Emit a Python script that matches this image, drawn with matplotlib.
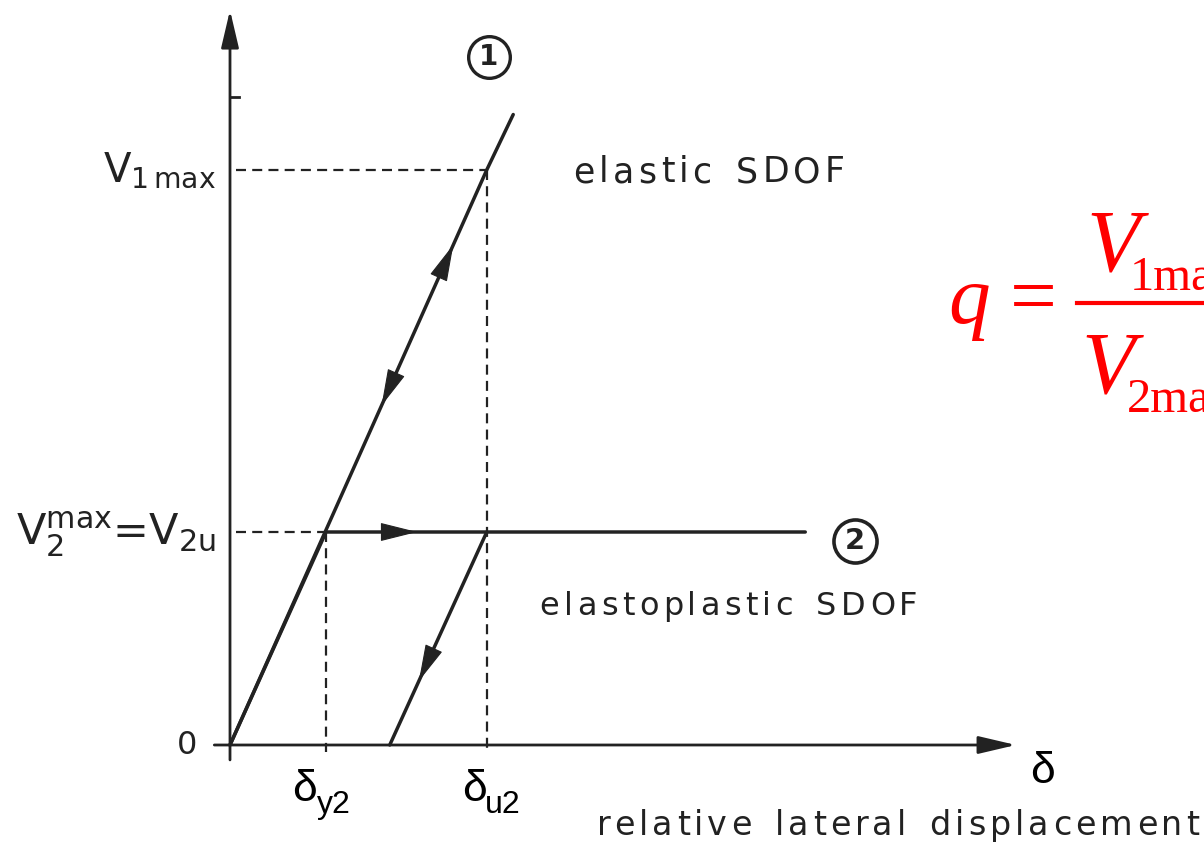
import numpy as np
import matplotlib
matplotlib.use('Agg')
import matplotlib.pyplot as plt
from matplotlib.transforms import IdentityTransform

# values (delta in units of delta_y2, V in units of V2u)
delta_y2 = 0.98
delta_u2 = 2.62
V2u = 1.0
V1max = 2.70

# branch 1: elastic SDOF
elastic_d = [0.0, 2.62, 2.89]
elastic_V = [0.0, 2.70, 2.96]
# branch 2: elastoplastic SDOF (loading + plateau) and unloading
ep_d = [0.0, 0.98, 2.62, 5.87]
ep_V = [0.0, 1.0, 1.0, 1.0]
unload_d = [2.62, 1.63]
unload_V = [1.0, 0.0]

INK = '#222222'
RED = '#ff0000'

fig = plt.figure(figsize=(12.04, 8.5), dpi=100)
ax = fig.add_axes([0, 0, 1, 1])
ax.set_xlim(-230 / 98, 974 / 98)
ax.set_ylim(-105 / 213, 745 / 213)
ax.axis('off')


def axis_arrow(p0, p1):
    ax.annotate('', xy=p1, xytext=p0,
                arrowprops=dict(arrowstyle='-|>,head_length=1.15,head_width=0.27',
                                color=INK, lw=2.0, mutation_scale=20,
                                shrinkA=0, shrinkB=0))


def mid_arrow(p0, p1, frac):
    p0 = np.array(p0)
    p1 = np.array(p1)
    tip = p0 + frac * (p1 - p0)
    tail = p0 + (frac - 0.05) * (p1 - p0)
    ax.annotate('', xy=tip, xytext=tail,
                arrowprops=dict(arrowstyle='-|>,head_length=1.2,head_width=0.3',
                                color=INK, lw=0.8, mutation_scale=20,
                                shrinkA=0, shrinkB=0))


def tracked(x, y, s, width_px, size, space=0.45):
    # letter-spaced lettering like the original drawing
    renderer = fig.canvas.get_renderer()
    x0, y0 = ax.transData.transform((x, y))
    em = size * 100 / 72
    pieces, widths = [], []
    for ch in s:
        if ch == ' ':
            pieces.append(None)
            widths.append(space * em)
        else:
            t = ax.text(0, 0, ch, transform=IdentityTransform(), fontsize=size,
                        color=INK, va='baseline', ha='left')
            pieces.append(t)
            widths.append(t.get_window_extent(renderer).width)
    gap = (width_px - sum(widths)) / (len(s) - 1)
    cur = x0
    for t, w in zip(pieces, widths):
        if t is not None:
            t.set_position((cur, y0))
        cur += w + gap


# axes
axis_arrow((-0.16, 0), (8.02, 0))
axis_arrow((0, -0.07), (0, 3.45))
ax.plot([0, 0.09], [3.04, 3.04], color=INK, lw=2)

# dashed reference lines
dash = dict(color=INK, lw=1.6, ls=(0, (4.5, 2.8)))
ax.plot([0.06, delta_u2], [V1max, V1max], **dash)
ax.plot([delta_u2, delta_u2], [V1max, -0.035], **dash)
ax.plot([0.06, delta_y2], [V2u, V2u], **dash)
ax.plot([delta_y2, delta_y2], [V2u, -0.035], **dash)

# force-displacement branches
ax.plot(elastic_d, elastic_V, color=INK, lw=2.5, solid_capstyle='round')
ax.plot(ep_d, ep_V, color=INK, lw=2.5, solid_capstyle='round')
ax.plot(unload_d, unload_V, color=INK, lw=2.5, solid_capstyle='round')

mid_arrow((elastic_d[0], elastic_V[0]), (elastic_d[1], elastic_V[1]), 0.87)
mid_arrow((elastic_d[1], elastic_V[1]), (elastic_d[0], elastic_V[0]), 0.41)
mid_arrow((ep_d[1], ep_V[1]), (ep_d[3], ep_V[3]), 0.19)
mid_arrow((unload_d[0], unload_V[0]), (unload_d[1], unload_V[1]), 0.70)

# circled branch numbers
ax.plot(2.64, 3.23, 'o', ms=30, mfc='white', mec=INK, mew=2.4)
ax.text(2.64, 3.23, '1', ha='center', va='center', fontsize=20, color=INK,
        fontweight='bold')
ax.plot(6.38, 0.958, 'o', ms=31, mfc='white', mec=INK, mew=2.6)
ax.text(6.38, 0.958, '2', ha='center', va='center', fontsize=21, color=INK,
        fontweight='bold')

# axis labels from the scanned figure
ax.text(-0.14, V1max - 0.056, r'V$_{\mathrm{1\,max}}$', ha='right', va='baseline',
        fontsize=29, color=INK)
ax.text(-0.14, V2u - 0.061, r'V$_{\mathrm{2}}^{\mathrm{max}}$=V$_{\mathrm{2u}}$',
        ha='right', va='baseline', fontsize=31, color=INK)
ax.text(-0.44, 0, '0', ha='center', va='center', fontsize=23, color=INK)

tracked(3.50, 2.643, 'elastic SDOF', 272, 25)
tracked(3.16, 0.61, 'elastoplastic SDOF', 378, 23)
tracked(3.74, -0.423, 'relative lateral displacement', 603, 24)

# delta labels
sans = 'Liberation Sans'
ax.text(8.16, -0.178, 'δ', family=sans, fontsize=32, color='black', va='baseline')
ax.text(0.633, -0.263, 'δ', family=sans, fontsize=32, color='black', va='baseline')
ax.text(0.888, -0.319, 'y2', family=sans, fontsize=23, color='black', va='baseline')
ax.text(2.367, -0.263, 'δ', family=sans, fontsize=32, color='black', va='baseline')
ax.text(2.602, -0.319, 'u2', family=sans, fontsize=23, color='black', va='baseline')

# behaviour factor formula (cut by the right edge, as in the source slide)
serif = 'Liberation Serif'


def fx(px):
    return px / 1204


def fy(py):
    return 1 - py / 850


fig.text(fx(948), fy(323), 'q', family=serif, style='italic', fontsize=60,
         color=RED, va='baseline')
fig.text(fx(1010), fy(323), '=', family=serif, fontsize=60, color=RED, va='baseline')
fig.add_artist(plt.Line2D([fx(1077), 1.0], [fy(303), fy(303)],
                          transform=fig.transFigure, color=RED, lw=3))
fig.text(fx(1086), fy(270), 'V', family=serif, style='italic', fontsize=63,
         color=RED, va='baseline')
fig.text(fx(1130), fy(290), '1max', family=serif, fontsize=35, color=RED,
         va='baseline')
fig.text(fx(1081), fy(392), 'V', family=serif, style='italic', fontsize=63,
         color=RED, va='baseline')
fig.text(fx(1127), fy(412), '2max', family=serif, fontsize=35, color=RED,
         va='baseline')

fig.savefig('out.png', dpi=100)
